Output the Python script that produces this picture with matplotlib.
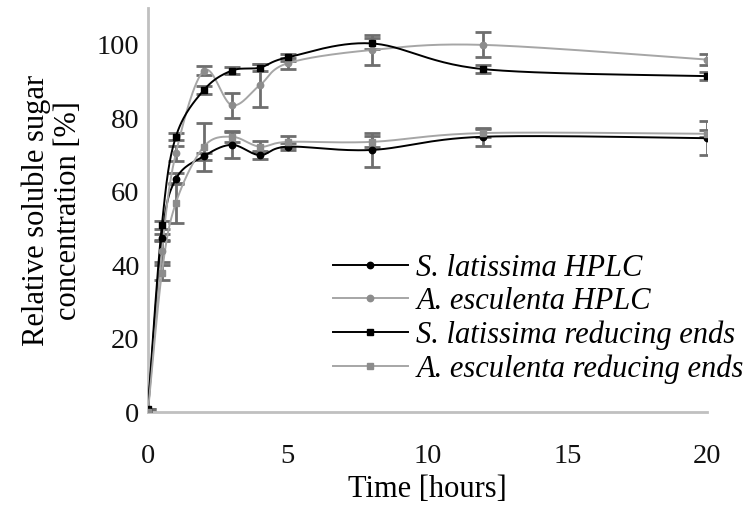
import numpy as np
import matplotlib
matplotlib.use("Agg")
import matplotlib.pyplot as plt

plt.rcParams['font.family'] = ['Liberation Serif', 'DejaVu Serif']

time_h = [0, 0.5, 1, 2, 3, 4, 5, 8, 12, 20]

slat_hplc = [0, 47.5, 63.5, 69.7, 72.8, 70.0, 72.3, 71.4, 75.0, 74.6]
slat_hplc_err = [0, 1.0, 1.5, 1.0, 3.5, 1.0, 1.0, 4.7, 2.5, 4.7]

aesc_hplc = [0, 44.0, 70.5, 93.0, 83.6, 89.0, 95.0, 98.6, 100.0, 96.0]
aesc_hplc_err = [0, 3.0, 2.0, 1.3, 3.4, 5.8, 1.5, 4.1, 3.4, 1.5]

slat_re = [1.0, 51.0, 75.0, 87.7, 93.0, 93.8, 96.6, 100.4, 93.4, 91.5]
slat_re_err = [0, 1.0, 1.0, 1.0, 1.0, 1.0, 1.0, 1.5, 1.0, 1.0]

aesc_re = [0, 38.0, 57.0, 72.3, 75.0, 72.3, 73.6, 73.6, 76.0, 75.8]
aesc_re_err = [0, 2.0, 5.5, 6.5, 1.5, 1.5, 1.5, 1.5, 1.0, 1.0]

labels = ["S. latissima HPLC", "A. esculenta HPLC",
          "S. latissima reducing ends", "A. esculenta reducing ends"]

XMAX, YMAX = 20, 110

fig = plt.figure(figsize=(7.47, 5.09), dpi=100)
ax = fig.add_axes([0.198, 0.19, 0.7485, 0.794])
ax.set_xlim(0, XMAX)
ax.set_ylim(0, YMAX)


def smooth(x, y, n=30):
    # Excel-style smoothed line (parametric Catmull-Rom in screen-like units)
    sx, sy = 559.0 / XMAX, 404.0 / YMAX
    P = np.column_stack([np.asarray(x) * sx, np.asarray(y) * sy])
    P = np.vstack([P[0], P, P[-1]])
    out = []
    tt = np.linspace(0, 1, n)
    for i in range(1, len(P) - 2):
        p0, p1, p2, p3 = P[i - 1], P[i], P[i + 1], P[i + 2]
        c1 = p1 + (p2 - p0) / 6.0
        c2 = p2 - (p3 - p1) / 6.0
        seg = ((1 - tt) ** 3)[:, None] * p1 + (3 * (1 - tt) ** 2 * tt)[:, None] * c1 \
            + (3 * (1 - tt) * tt ** 2)[:, None] * c2 + (tt ** 3)[:, None] * p2
        out.append(seg)
    Q = np.vstack(out)
    return Q[:, 0] / sx, Q[:, 1] / sy


BLACK = '#000000'
GRAYL = '#a6a6a6'
GRAYM = '#8c8c8c'
ECOL = '#6e6e6e'

series = [
    (slat_hplc, slat_hplc_err, BLACK, BLACK, 'o', 4.6),
    (aesc_hplc, aesc_hplc_err, GRAYL, GRAYM, 'o', 4.6),
    (slat_re, slat_re_err, BLACK, BLACK, 's', 4.8),
    (aesc_re, aesc_re_err, GRAYL, GRAYM, 's', 4.8),
]

handles = []
for (vals, errs, lc, mc, mk, ms), lab in zip(series, labels):
    ax.errorbar(time_h, vals, yerr=errs, fmt='none', ecolor=ECOL,
                elinewidth=2, capsize=6, capthick=2, zorder=2)
for (vals, errs, lc, mc, mk, ms), lab in zip(series, labels):
    xs, ys = smooth(time_h, vals)
    ax.plot(xs, ys, color=lc, lw=1.4, zorder=3)
    ax.plot(time_h, vals, linestyle='none', marker=mk, ms=ms,
            color=mc, mec=mc, zorder=4)
    h, = ax.plot([], [], color=lc, lw=1.4, marker=mk, ms=ms, mfc=mc, mec=mc)
    handles.append(h)

for s in ['top', 'right']:
    ax.spines[s].set_visible(False)
for s in ['left', 'bottom']:
    ax.spines[s].set_color('#c0c0c0')
    ax.spines[s].set_linewidth(2)

ax.set_xticks([0, 5, 10, 15, 20])
ax.set_yticks([0, 20, 40, 60, 80, 100])
ax.tick_params(axis='both', length=0, labelsize=20.5, colors='#111111')
ax.tick_params(axis='x', pad=23)
ax.tick_params(axis='y', pad=6)

ax.set_xlabel("Time [hours]", fontsize=22, labelpad=4)
ax.set_ylabel("Relative soluble sugar\nconcentration [%]", fontsize=22,
              labelpad=10, linespacing=1.15)

leg = ax.legend(handles, labels, loc='upper left', bbox_to_anchor=(0.331, 0.392),
                frameon=False, borderpad=0, borderaxespad=0,
                handlelength=2.45, handletextpad=0.28, labelspacing=0.14,
                prop={'family': 'Liberation Serif', 'style': 'italic', 'size': 22})

fig.savefig("out.png", dpi=100)
